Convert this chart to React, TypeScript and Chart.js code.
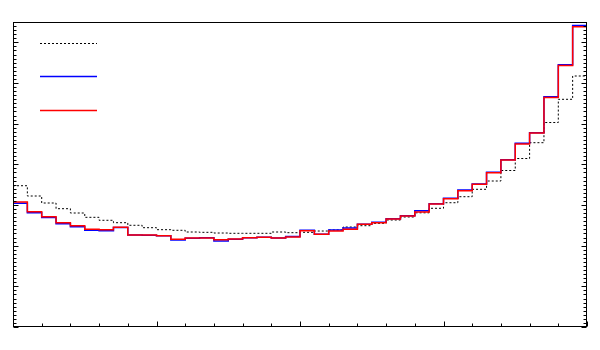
import React, { useEffect, useRef } from "react";
import { Chart, registerables } from "chart.js";

Chart.register(...registerables);

// 40 bins, x range 0..40
const binCount = 40;
const binEdges: number[] = Array.from({ length: binCount + 1 }, (_, i) => i);

const dottedValues = [
  3.474, 3.221, 3.049, 2.909, 2.803, 2.697, 2.624, 2.565, 2.501, 2.442,
  2.393, 2.378, 2.336, 2.328, 2.311, 2.304, 2.304, 2.304, 2.336, 2.319,
  2.328, 2.36, 2.385, 2.459, 2.491, 2.55, 2.631, 2.705, 2.808, 2.919,
  3.056, 3.204, 3.386, 3.59, 3.848, 4.143, 4.532, 5.028, 5.599, 6.172,
];

const blueValues = [
  3.042, 2.81, 2.692, 2.54, 2.466, 2.378, 2.368, 2.447, 2.262, 2.255,
  2.245, 2.139, 2.181, 2.196, 2.115, 2.156, 2.196, 2.206, 2.188, 2.225,
  2.378, 2.279, 2.385, 2.434, 2.525, 2.574, 2.663, 2.737, 2.86, 3.032,
  3.164, 3.369, 3.516, 3.804, 4.114, 4.517, 4.778, 5.663, 6.45, 7.413,
];

const redValues = [
  3.074, 2.835, 2.712, 2.565, 2.491, 2.402, 2.393, 2.451, 2.262, 2.262,
  2.245, 2.156, 2.188, 2.188, 2.147, 2.164, 2.196, 2.206, 2.188, 2.213,
  2.368, 2.279, 2.36, 2.402, 2.525, 2.565, 2.656, 2.729, 2.828, 3.024,
  3.155, 3.351, 3.511, 3.792, 4.106, 4.5, 4.77, 5.643, 6.43, 7.384,
];

const xMin = 0;
const xMax = 40;
const yMin = 0;
const yMax = 7.5;
const xMajorStep = 10;
const xMinorStep = 2;
const yMajorStep = 1;
const yMinorStep = 0.1;

// points at bin left edges; stepped "before" draws horizontal to next edge then vertical
function toSteps(values: number[]) {
  const pts = values.map((v, i) => ({ x: binEdges[i], y: v }));
  pts.push({ x: binEdges[binCount], y: values[values.length - 1] });
  return pts;
}

const legendItems = [
  { color: "#000000", dash: [2, 2], width: 1 },
  { color: "#0000ff", dash: [] as number[], width: 1.5 },
  { color: "#ff0000", dash: [] as number[], width: 1.5 },
];

const framePlugin = {
  id: "rootFrame",
  afterDatasetsDraw(chart: any) {
    const { ctx, chartArea } = chart;
    const xs = chart.scales.x;
    const ys = chart.scales.y;
    const L = Math.round(chartArea.left) + 0.5;
    const R = Math.round(chartArea.right) - 0.5;
    const T = Math.round(chartArea.top) + 0.5;
    const B = Math.round(chartArea.bottom) - 0.5;
    ctx.save();
    ctx.strokeStyle = "#000";
    ctx.lineWidth = 1;
    ctx.setLineDash([]);
    ctx.strokeRect(L, T, R - L, B - T);
    ctx.beginPath();
    for (let v = xMin; v <= xMax + 1e-9; v += xMinorStep) {
      const major = Math.abs(v / xMajorStep - Math.round(v / xMajorStep)) < 1e-6;
      const px = Math.round(xs.getPixelForValue(v)) + 0.5;
      const len = major ? 5 : 3;
      ctx.moveTo(px, B);
      ctx.lineTo(px, B - len);
    }
    const nY = Math.round((yMax - yMin) / yMinorStep);
    for (let k = 0; k <= nY; k++) {
      const v = yMin + k * yMinorStep;
      const major = k % Math.round(yMajorStep / yMinorStep) === 0;
      const py = Math.round(ys.getPixelForValue(v)) + 0.5;
      const len = major ? 5 : 3;
      ctx.moveTo(L, py);
      ctx.lineTo(L + len, py);
      ctx.moveTo(R, py);
      ctx.lineTo(R - len, py);
    }
    ctx.stroke();

    const lx0 = chartArea.left + 27;
    const lx1 = chartArea.left + 84;
    const rows = [21, 54, 88];
    legendItems.forEach((it, i) => {
      const y = Math.round(chartArea.top + rows[i]) + 0.5;
      ctx.beginPath();
      ctx.strokeStyle = it.color;
      ctx.lineWidth = it.width;
      ctx.setLineDash(it.dash);
      ctx.moveTo(lx0, y);
      ctx.lineTo(lx1, y);
      ctx.stroke();
    });
    ctx.restore();
  },
};

export default function App() {
  const ref = useRef<HTMLCanvasElement | null>(null);
  useEffect(() => {
    if (!ref.current) return;
    const chart = new Chart(ref.current, {
      type: "line",
      data: {
        datasets: [
          {
            label: "red",
            data: toSteps(redValues),
            borderColor: "#ff0000",
            borderWidth: 1.5,
            stepped: "before",
            pointRadius: 0,
            fill: false,
          },
          {
            label: "blue",
            data: toSteps(blueValues),
            borderColor: "#0000ff",
            borderWidth: 1.5,
            stepped: "before",
            pointRadius: 0,
            fill: false,
          },
          {
            label: "dotted",
            data: toSteps(dottedValues),
            borderColor: "#000000",
            borderWidth: 1,
            borderDash: [2, 2],
            stepped: "before",
            pointRadius: 0,
            fill: false,
          },
        ],
      },
      options: {
        responsive: false,
        animation: false,
        layout: { padding: { left: 5, right: 5, top: 14, bottom: 15 } },
        plugins: { legend: { display: false }, tooltip: { enabled: false } },
        scales: {
          x: { type: "linear", min: xMin, max: xMax, display: false },
          y: { type: "linear", min: yMin, max: yMax, display: false },
        },
      },
      plugins: [framePlugin],
    });
    return () => chart.destroy();
  }, []);
  return (
    <canvas ref={ref} width={584} height={334} style={{ display: "block" }} />
  );
}
